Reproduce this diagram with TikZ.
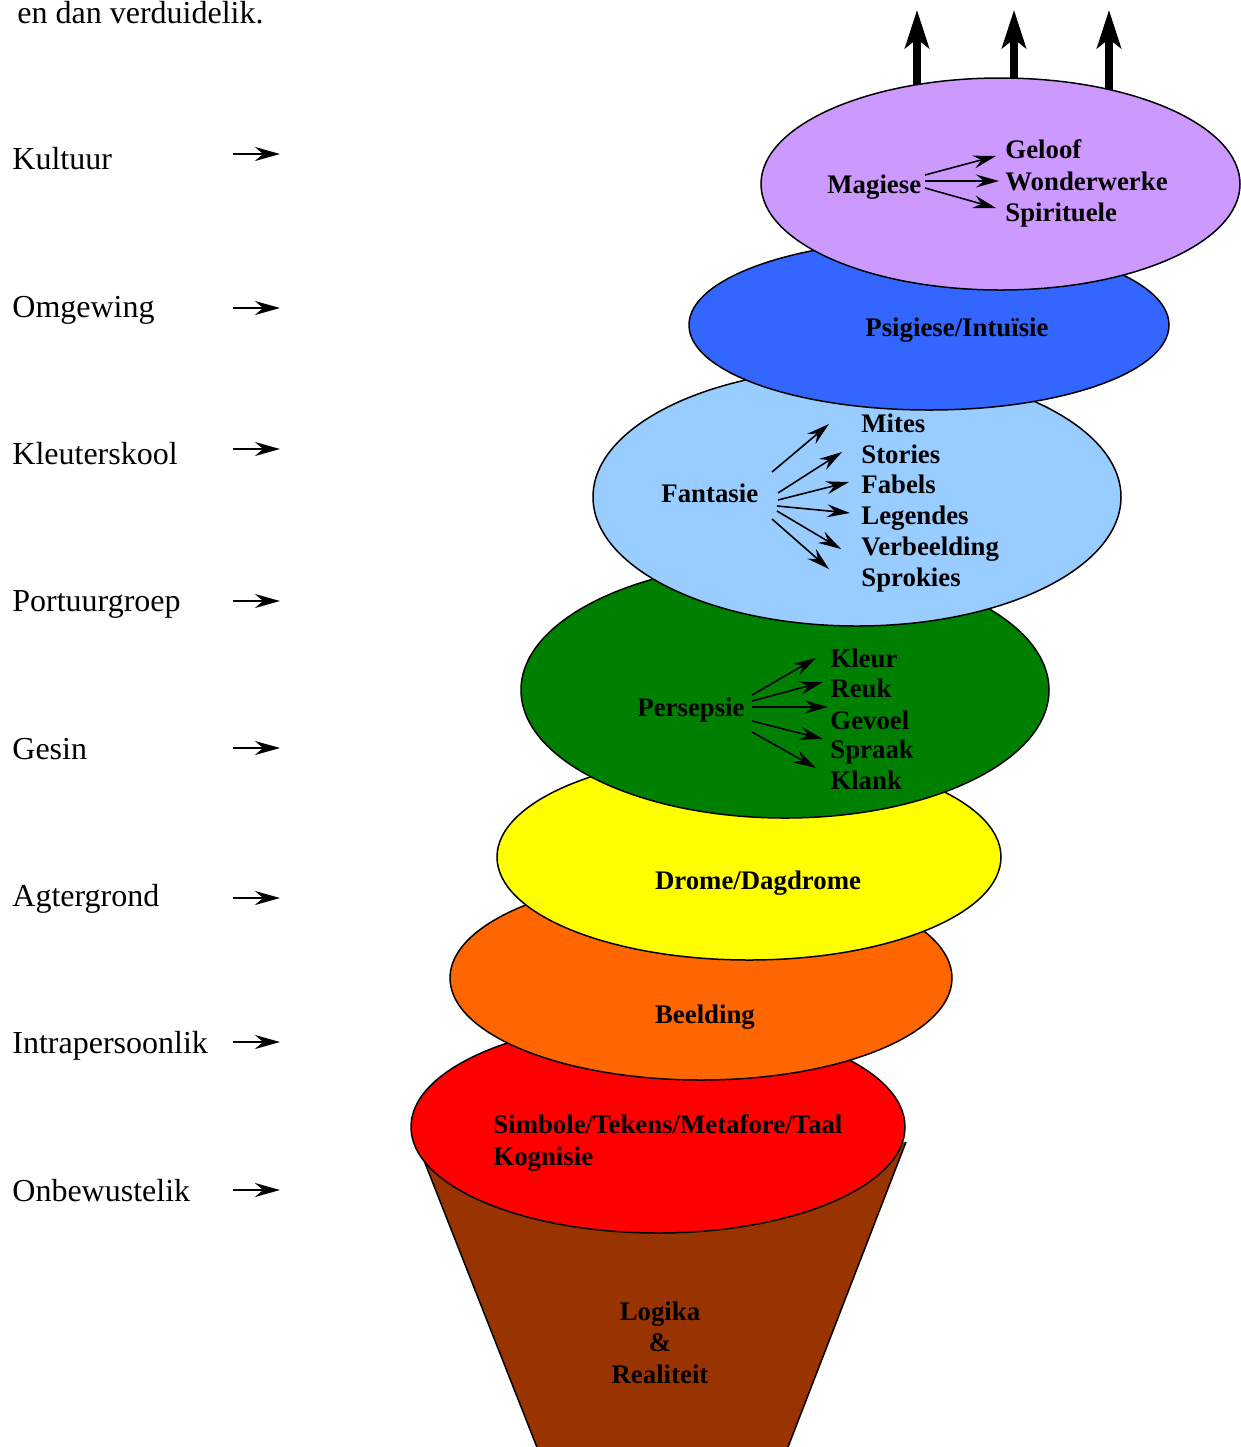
\documentclass[tikz,border=0pt]{standalone}
\usepackage{fontspec}
\setmainfont{Liberation Serif}
\usetikzlibrary{arrows.meta,shapes.geometric}
\definecolor{cpurple}{HTML}{CC99FF}
\definecolor{cblue}{HTML}{3366FF}
\definecolor{clblue}{HTML}{99CCFF}
\definecolor{cgreen}{HTML}{008000}
\definecolor{cyellow}{HTML}{FFFF00}
\definecolor{corange}{HTML}{FF6600}
\definecolor{cred}{HTML}{FF0000}
\definecolor{cbrown}{HTML}{993300}
\tikzset{
  sidelab/.style={font=\fontsize{16}{19}\selectfont, inner sep=0pt, anchor=base west},
  inlab/.style={font=\fontsize{13.4}{15}\selectfont\bfseries, inner sep=0pt, anchor=base west},
  inlabc/.style={font=\fontsize{13.4}{15}\selectfont\bfseries, inner sep=0pt, anchor=base},
  layer/.style={ellipse, draw=black, line width=0.75pt, inner sep=0pt},
  sidearrow/.style={line width=1pt, -{Stealth[length=12.5pt,width=7pt,inset=4pt]}},
  inarrow/.style={line width=0.8pt, -{Stealth[length=11.5pt,width=6.5pt,inset=4pt]}},
  uparrow/.style={line width=4pt, -{Stealth[length=19pt,width=12pt,inset=4.5pt]}},
}
\begin{document}
\begin{tikzpicture}[x=0.5pt,y=-0.5pt]
\useasboundingbox (0,0) rectangle (1241,1447);

% top text
\node[sidelab] (intro) at (17,23) {en dan verduidelik.};

% up arrows
\coordinate (u1s) at (917,110); \coordinate (u1e) at (917,10);
\coordinate (u2s) at (1014,110); \coordinate (u2e) at (1014,10);
\coordinate (u3s) at (1109,110); \coordinate (u3e) at (1109,10);
\draw[uparrow] (u1s) -- (u1e);
\draw[uparrow] (u2s) -- (u2e);
\draw[uparrow] (u3s) -- (u3e);

% funnel
\begin{scope}
\clip (0,0) rectangle (1241,1447);
\coordinate (fa) at (425,1163);
\coordinate (fb) at (906,1142);
\coordinate (fc) at (783,1460);
\coordinate (fd) at (542,1460);
\fill[cbrown] (fa) -- (fb) -- (fc) -- (fd) -- cycle;
\draw[line width=0.75pt] (fa) -- (fd);
\draw[line width=0.75pt] (fb) -- (fc);
\end{scope}

% layers, bottom to top
\node[layer, fill=cred, minimum width=247pt, minimum height=106pt] (red) at (658,1127) {};
\node[layer, fill=corange, minimum width=251pt, minimum height=102pt] (orange) at (701,978) {};
\node[layer, fill=cyellow, minimum width=252pt, minimum height=103pt] (yellow) at (749,857) {};
\node[layer, fill=cgreen, minimum width=264pt, minimum height=128pt] (green) at (785,690) {};
\node[layer, fill=clblue, minimum width=264pt, minimum height=129pt] (lblue) at (857,497) {};
\node[layer, fill=cblue, minimum width=240pt, minimum height=85pt] (blue) at (929,325) {};
\node[layer, fill=cpurple, minimum width=239.5pt, minimum height=106pt] (purple) at (1000.5,184) {};

% Magiese
\node[inlab] (mag) at (827,193) {Magiese};
\node[inlab] (gel) at (1005,158) {Geloof};
\node[inlab] (won) at (1005,190) {Wonderwerke};
\node[inlab] (spi) at (1005,221) {Spirituele};
\coordinate (m1) at (925,175); \coordinate (m1e) at (996,156);
\coordinate (m2) at (925,181); \coordinate (m2e) at (999,181);
\coordinate (m3) at (925,188); \coordinate (m3e) at (996,208);
\draw[inarrow] (m1) -- (m1e);
\draw[inarrow] (m2) -- (m2e);
\draw[inarrow] (m3) -- (m3e);

% Psigiese
\node[inlabc] (psi) at (957,336) {Psigiese/Intuïsie};

% Fantasie
\node[inlab] (fan) at (661,502) {Fantasie};
\node[inlab] (mit) at (861,432) {Mites};
\node[inlab] (sto) at (861,463) {Stories};
\node[inlab] (fab) at (861,493) {Fabels};
\node[inlab] (leg) at (861,524) {Legendes};
\node[inlab] (ver) at (861,555) {Verbeelding};
\node[inlab] (spr) at (861,586) {Sprokies};
\coordinate (f1) at (772,472); \coordinate (f1e) at (829,424);
\coordinate (f2) at (778,493); \coordinate (f2e) at (842,452);
\coordinate (f3) at (778,500); \coordinate (f3e) at (849,482);
\coordinate (f4) at (777,506); \coordinate (f4e) at (850,513);
\coordinate (f5) at (777,511); \coordinate (f5e) at (841,549);
\coordinate (f6) at (772,519); \coordinate (f6e) at (829,569);
\draw[inarrow] (f1) -- (f1e);
\draw[inarrow] (f2) -- (f2e);
\draw[inarrow] (f3) -- (f3e);
\draw[inarrow] (f4) -- (f4e);
\draw[inarrow] (f5) -- (f5e);
\draw[inarrow] (f6) -- (f6e);

% Persepsie
\node[inlab] (per) at (637,716) {Persepsie};
\node[inlab] (kle) at (830,667) {Kleur};
\node[inlab] (reu) at (830,697) {Reuk};
\node[inlab] (gev) at (830,729) {Gevoel};
\node[inlab] (spa) at (830,758) {Spraak};
\node[inlab] (kla) at (830,789) {Klank};
\coordinate (p1) at (752,695); \coordinate (p1e) at (816,658);
\coordinate (p2) at (752,701); \coordinate (p2e) at (823,682);
\coordinate (p3) at (752,707); \coordinate (p3e) at (828,707);
\coordinate (p4) at (752,721); \coordinate (p4e) at (823,739);
\coordinate (p5) at (752,732); \coordinate (p5e) at (816,768);
\draw[inarrow] (p1) -- (p1e);
\draw[inarrow] (p2) -- (p2e);
\draw[inarrow] (p3) -- (p3e);
\draw[inarrow] (p4) -- (p4e);
\draw[inarrow] (p5) -- (p5e);

% other layer texts
\node[inlabc] (dro) at (758,889) {Drome/Dagdrome};
\node[inlabc] (bee) at (705,1023) {Beelding};
\node[inlab] (sim) at (493,1133) {Simbole/Tekens/Metafore/Taal};
\node[inlab] (kog) at (493,1165) {Kognisie};
\node[inlabc] (log) at (660,1320) {Logika};
\node[inlabc] (amp) at (660,1351) {\&};
\node[inlabc] (rea) at (660,1383) {Realiteit};

% left labels
\node[sidelab] (l1) at (12,169) {Kultuur};
\node[sidelab] (l2) at (12,317) {Omgewing};
\node[sidelab] (l3) at (12,464) {Kleuterskool};
\node[sidelab] (l4) at (12,611) {Portuurgroep};
\node[sidelab] (l5) at (12,759) {Gesin};
\node[sidelab] (l6) at (12,906) {Agtergrond};
\node[sidelab] (l7) at (12,1053) {Intrapersoonlik};
\node[sidelab] (l8) at (12,1201) {Onbewustelik};

\foreach \i/\yy in {1/154,2/308,3/449,4/601,5/748,6/898,7/1042,8/1190}{
  \coordinate (a\i s) at (233,\yy);
  \coordinate (a\i e) at (280,\yy);
  \draw[sidearrow] (a\i s) -- (a\i e);
}
\end{tikzpicture}
\end{document}
